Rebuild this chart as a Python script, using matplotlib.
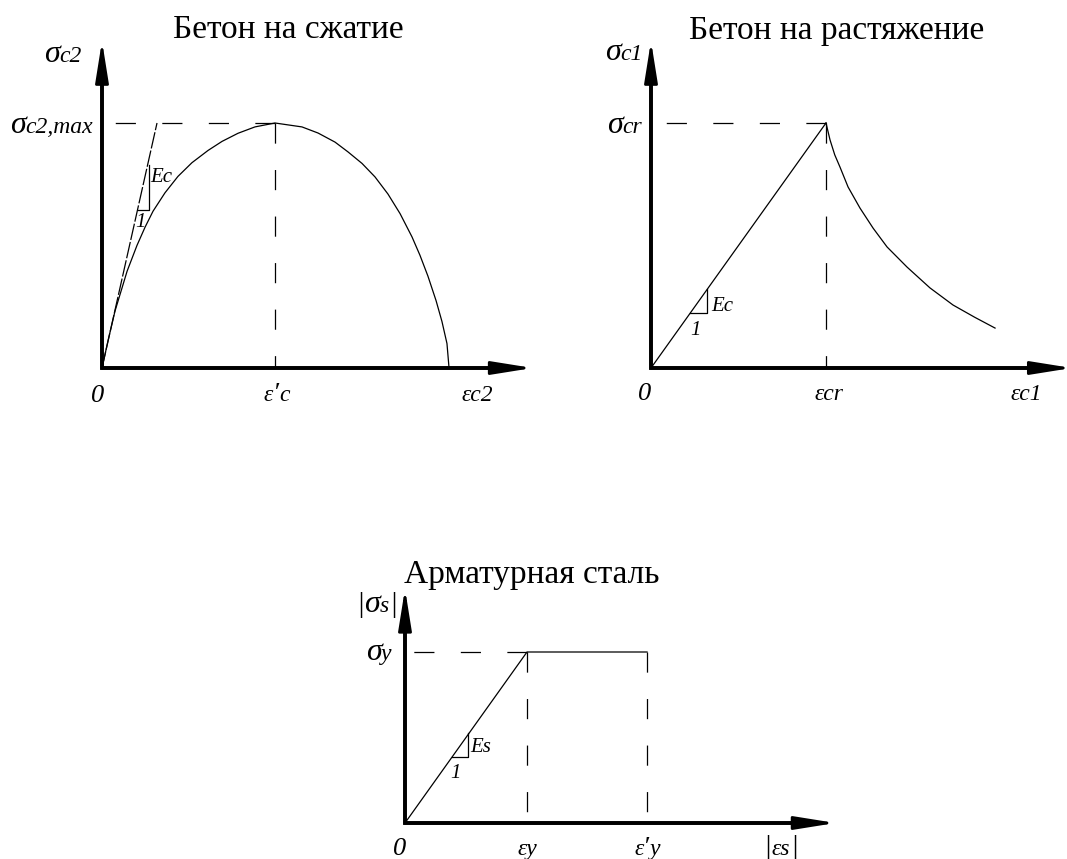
import numpy as np
import matplotlib
matplotlib.use('Agg')
import matplotlib.pyplot as plt
from matplotlib.transforms import offset_copy

W, H, DPI = 1067, 859, 100
SERIF = 'Liberation Serif'
plt.rcParams['font.family'] = [SERIF, 'DejaVu Serif']
plt.rcParams['lines.scale_dashes'] = False

# --- compression (strain / eps'c, stress / sigma_c2,max)
comp_eps = [0.0, 0.036, 0.075, 0.145, 0.202, 0.249, 0.295, 0.364, 0.439, 0.52,
            0.613, 0.694, 0.786, 0.884, 1.0, 1.156, 1.249, 1.347, 1.422, 1.503,
            1.578, 1.653, 1.723, 1.792, 1.838, 1.884, 1.931, 1.965, 1.994, 2.006]
comp_sig = [0.0, 0.115, 0.232, 0.395, 0.500, 0.575, 0.640, 0.715, 0.782, 0.838,
            0.888, 0.925, 0.958, 0.984, 1.0, 0.984, 0.959, 0.922, 0.882, 0.835,
            0.780, 0.710, 0.630, 0.535, 0.460, 0.375, 0.275, 0.190, 0.100, 0.0]
comp_tan_eps = [0.0, 0.318]
comp_tan_sig = [0.0, 1.0]
comp_tri_eps = [0.208, 0.272, 0.272]
comp_tri_sig = [0.645, 0.645, 0.829]

# --- tension (strain / eps_cr, stress / sigma_cr)
tens_rise_eps = [0.0, 1.0]
tens_rise_sig = [0.0, 1.0]
tens_soft_eps = [1.0, 1.023, 1.050, 1.080, 1.126, 1.194, 1.269, 1.349, 1.463,
                 1.594, 1.726, 1.850, 1.966]
tens_soft_sig = [1.0, 0.931, 0.870, 0.820, 0.739, 0.653, 0.571, 0.494, 0.412,
                 0.327, 0.257, 0.207, 0.163]
tens_tri_eps = [0.224, 0.322, 0.322]
tens_tri_sig = [0.224, 0.224, 0.322]

# --- steel (strain / eps_y, stress / sigma_y)
steel_eps = [0.0, 1.0, 1.984]
steel_sig = [0.0, 1.0, 1.0]
steel_tri_eps = [0.385, 0.516, 0.516]
steel_tri_sig = [0.385, 0.385, 0.526]

titles = ['Бетон на сжатие', 'Бетон на растяжение', 'Арматурная сталь']

fig = plt.figure(figsize=(W / DPI, H / DPI), dpi=DPI)
fig.patch.set_facecolor('white')
renderer = fig.canvas.get_renderer()

LW = 0.9
DASH = (14.5, 19.0)
SUB = 17   # size of latin letters / indices
GR = 23    # size of sigma
PRIME = [('ε', SUB), ('\u2032', 20)]


def make_axes(ox, oy, ux, uy, xlim, ylim):
    """axes whose data origin sits at pixel (ox, oy), ux/uy pixels per unit"""
    left = ox + xlim[0] * ux
    right = ox + xlim[1] * ux
    top = oy - ylim[1] * uy
    bottom = oy - ylim[0] * uy
    ax = fig.add_axes([left / W, 1 - bottom / H, (right - left) / W, (bottom - top) / H])
    ax.set_xlim(xlim)
    ax.set_ylim(ylim)
    ax.axis('off')
    return ax


def draw_axes(ax, xtip, ytip):
    ax.plot([xtip * 0.96, 0, 0], [0, 0, ytip * 0.95], color='k', lw=2.8,
            solid_joinstyle='miter', solid_capstyle='butt', clip_on=False)
    for tip in [(xtip, 0), (0, ytip)]:
        ax.annotate('', xy=tip, xytext=(0, 0), annotation_clip=False,
                    arrowprops=dict(arrowstyle='-|>,head_length=1.25,head_width=0.2',
                                    lw=2.0, color='k', shrinkA=0, shrinkB=0,
                                    mutation_scale=20))


def dashed(ax, xs, ys):
    ax.plot(xs, ys, color='k', lw=LW, dashes=DASH)


def label(ax, x, y, parts, ha='center'):
    """italic label made of pieces of different size, sharing one baseline"""
    if isinstance(parts, str):
        parts = [(parts, SUB)]
    texts = [ax.text(x, y, s, ha='left', va='baseline', fontsize=sz, style='italic')
             for s, sz in parts]
    widths = [t.get_window_extent(renderer).width for t in texts]
    total = sum(widths)
    off = {'left': 0, 'center': -total / 2, 'right': -total}[ha]
    for t, w in zip(texts, widths):
        t.set_transform(offset_copy(ax.transData, fig=fig, x=off, y=0, units='dots'))
        off += w


# ---------- top left: concrete in compression
ax1 = make_axes(102, 368, 173, 245, (-0.58, 2.6), (-0.2, 1.45))
draw_axes(ax1, 2.49, 1.335)
dashed(ax1, [1.0, 0.0], [1.0, 1.0])
dashed(ax1, [1.0, 1.0], [1.0, 0.0])
ax1.plot(comp_eps, comp_sig, color='k', lw=LW)
ax1.plot(comp_tan_eps, comp_tan_sig, color='k', lw=LW, dashes=(12, 1.5))
ax1.plot(comp_tri_eps, comp_tri_sig, color='k', lw=LW)
label(ax1, -0.116, 1.249, [('σ', GR), ('c2', SUB)], ha='right')
label(ax1, -0.052, 0.959, [('σ', GR), ('c2,max', SUB)], ha='right')
label(ax1, -0.023, -0.139, [('0', 19)])
label(ax1, 1.01, -0.135, PRIME + [('c', SUB)])
label(ax1, 2.17, -0.135, 'εc2')
label(ax1, 0.277, 0.759, [('Ec', 15)], ha='left')
label(ax1, 0.22, 0.576, [('1', 15)])

# ---------- top right: concrete in tension
ax2 = make_axes(651, 368, 175, 245, (-0.35, 2.45), (-0.2, 1.45))
draw_axes(ax2, 2.405, 1.335)
dashed(ax2, [1.0, 0.0], [1.0, 1.0])
dashed(ax2, [1.0, 1.0], [1.0, 0.0])
ax2.plot(tens_rise_eps, tens_rise_sig, color='k', lw=LW)
ax2.plot(tens_soft_eps, tens_soft_sig, color='k', lw=LW)
ax2.plot(tens_tri_eps, tens_tri_sig, color='k', lw=LW)
label(ax2, -0.046, 1.257, [('σ', GR), ('c1', SUB)], ha='right')
label(ax2, -0.051, 0.959, [('σ', GR), ('cr', SUB)], ha='right')
label(ax2, -0.034, -0.13, [('0', 19)])
label(ax2, 1.017, -0.13, 'εcr')
label(ax2, 2.143, -0.13, 'εc1')
label(ax2, 0.343, 0.233, [('Ec', 15)], ha='left')
label(ax2, 0.257, 0.135, [('1', 15)])

# ---------- bottom: reinforcing steel
ax3 = make_axes(405, 823, 122, 171, (-0.6, 3.6), (-0.22, 1.45))
draw_axes(ax3, 3.53, 1.37)
dashed(ax3, [1.0, 0.0], [1.0, 1.0])
dashed(ax3, [1.0, 1.0], [1.0, 0.0])
dashed(ax3, [steel_eps[2], steel_eps[2]], [1.0, 0.0])
ax3.plot(steel_eps, steel_sig, color='k', lw=LW)
ax3.plot(steel_tri_eps, steel_tri_sig, color='k', lw=LW)
label(ax3, -0.066, 1.234, [('|', 21), ('σ', GR), ('s', SUB), ('|', 21)], ha='right')
label(ax3, -0.107, 0.953, [('σ', GR), ('y', SUB)], ha='right')
label(ax3, -0.041, -0.187, [('0', 19)])
label(ax3, 1.0, -0.187, 'εy')
label(ax3, 1.984, -0.187, PRIME + [('y', SUB)])
label(ax3, 3.08, -0.187, [('|', 21), ('εs', SUB), ('|', 21)])
label(ax3, 0.533, 0.415, [('Es', 15)], ha='left')
label(ax3, 0.418, 0.263, [('1', 15)])

# titles (pixel centre x, baseline y)
for t, (px, py) in zip(titles, [(288, 38), (837, 39), (532, 583)]):
    fig.text(px / W, 1 - py / H, t, ha='center', va='baseline', fontsize=24)

fig.savefig('out.png', dpi=DPI, facecolor='white')
plt.close(fig)
